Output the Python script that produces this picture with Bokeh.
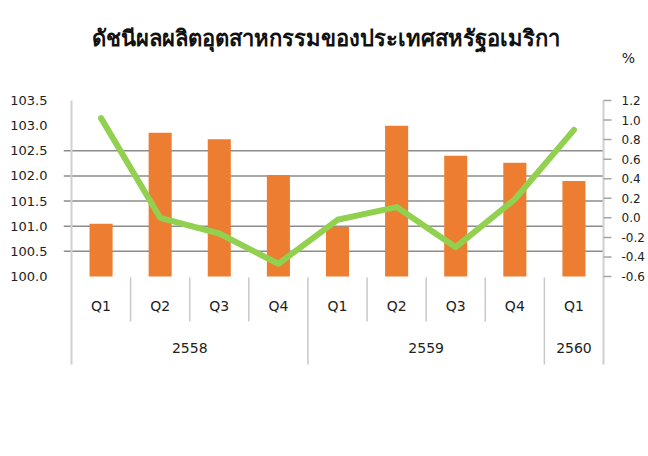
from bokeh.plotting import figure
from bokeh.models import Range1d, LinearAxis, FixedTicker, NumeralTickFormatter
from bokeh.core.properties import value
from bokeh.embed import file_html
from bokeh.resources import INLINE

# ---- data ----
title_text = "ดัชนีผลผลิตอุตสาหกรรมของประเทศสหรัฐอเมริกา"
years = ["2558", "2558", "2558", "2558", "2559", "2559", "2559", "2559", "2560"]
quarters = ["Q1", "Q2", "Q3", "Q4", "Q1", "Q2", "Q3", "Q4", "Q1"]
index_values = [101.05, 102.86, 102.73, 102.02, 100.99, 103.00, 102.40, 102.26, 101.90]
pct_change = [1.02, 0.00, -0.16, -0.47, -0.02, 0.11, -0.30, 0.19, 0.90]
left_ticks = [100.0, 100.5, 101.0, 101.5, 102.0, 102.5, 103.0, 103.5]
grid_ticks = [100.5, 101.0, 101.5, 102.0, 102.5]
right_ticks = [-0.6, -0.4, -0.2, 0.0, 0.2, 0.4, 0.6, 0.8, 1.0, 1.2]
right_tick_labels = ["-0.6", "-0.4", "-0.2", "0.0", "0.2", "0.4", "0.6", "0.8", "1.0", "1.2"]
unit_label = "%"

# ---- style / layout ----
BAR = "#ED7D31"
LINE = "#92D050"
TXT = "#222222"
FONT = "DejaVu Sans"
W, H = 648, 456
PLOT_L, PLOT_R = 71, 603        # category axis extent (px)
PLOT_T, PLOT_B = 100, 276       # value axes extent (px)
FRAME_L, FRAME_B = 63, 368
n = len(quarters)
L_MIN, L_MAX = left_ticks[0], left_ticks[-1]
R_MIN, R_MAX = right_ticks[0], right_ticks[-1]
kx = (PLOT_R - PLOT_L) / n
kl = (PLOT_B - PLOT_T) / (L_MAX - L_MIN)
kr = (PLOT_B - PLOT_T) / (R_MAX - R_MIN)

def dx(px):
    return (px - PLOT_L) / kx

def dl(py):
    return L_MIN + (PLOT_B - py) / kl

def dr(py):
    return R_MIN + (PLOT_B - py) / kr

xc = [i + 0.5 for i in range(n)]
year_names, year_centers, year_bounds = [], [], [0]
start = 0
for i in range(1, n + 1):
    if i == n or years[i] != years[start]:
        year_names.append(years[start])
        year_centers.append((start + i) / 2)
        year_bounds.append(i)
        start = i
quarter_bounds = [b for b in range(1, n) if b not in year_bounds]

p = figure(width=W, height=H, output_backend="svg", toolbar_location=None,
           x_range=Range1d(dx(FRAME_L), dx(W)), y_range=Range1d(dl(FRAME_B), dl(0)),
           x_axis_location=None, y_axis_location=None,
           min_border_left=FRAME_L, min_border_right=0, min_border_top=0,
           min_border_bottom=H - FRAME_B)
p.extra_y_ranges = {"pct": Range1d(dr(FRAME_B), dr(0))}
p.outline_line_color = None
p.background_fill_color = "white"
p.border_fill_color = "white"
p.xgrid.grid_line_color = None
p.ygrid.grid_line_color = None

# left value axis
lax = LinearAxis(ticker=FixedTicker(ticks=left_ticks),
                 formatter=NumeralTickFormatter(format="0.0"),
                 axis_line_color=None, major_tick_out=0, major_tick_in=0,
                 minor_tick_out=0, minor_tick_in=0,
                 major_label_standoff=16, major_label_text_font=FONT,
                 major_label_text_font_size="13px", major_label_text_color=TXT)
p.add_layout(lax, "left")

# horizontal gridlines
p.segment(x0=dx(FRAME_L), x1=n, y0=grid_ticks, y1=grid_ticks,
          line_color="#8c8c8c", line_width=1.5)

# left and right axis lines (continuing down as category borders)
p.segment(x0=[0, n], x1=[0, n], y0=L_MAX, y1=dl(364), line_color="#d0d0d0", line_width=2)

# right axis ticks
p.segment(x0=n, x1=n + 8 / kx, y0=right_ticks, y1=right_ticks, y_range_name="pct",
          line_color="#a6a6a6", line_width=1.5)

# bars and line
p.vbar(x=xc, top=index_values, bottom=L_MIN, width=0.39, fill_color=BAR, line_color=None)
p.line(xc, pct_change, y_range_name="pct", line_color=LINE, line_width=6,
       line_cap="round", line_join="round")

# category separators
p.segment(x0=quarter_bounds, x1=quarter_bounds, y0=dl(277), y1=dl(321),
          line_color="#c8c8c8", line_width=1.5)
inner_year_bounds = [b for b in year_bounds if 0 < b < n]
p.segment(x0=inner_year_bounds, x1=inner_year_bounds, y0=dl(277), y1=dl(364),
          line_color="#c8c8c8", line_width=1.5)

# category labels
p.text(x=xc, y=dl(305), text=quarters, text_align="center", text_baseline="middle",
       text_font=value(FONT), text_font_size=value("14px"), text_color=TXT)
p.text(x=year_centers, y=dl(347), text=year_names, text_align="center",
       text_baseline="middle", text_font=value(FONT), text_font_size=value("14px"),
       text_color=TXT)

# right axis labels
p.text(x=dx(621), y=right_ticks, text=right_tick_labels, y_range_name="pct",
       text_align="left", text_baseline="middle", text_font=value(FONT),
       text_font_size=value("12px"), text_color=TXT)

# unit label
p.text(x=[dx(628)], y=[dl(57)], text=[unit_label], text_align="center",
       text_baseline="middle", text_font=value(FONT), text_font_size=value("14px"),
       text_color=TXT)

# title
p.text(x=[dx(325)], y=[dl(36)], text=[title_text], text_align="center",
       text_baseline="middle", text_font=value("Noto Sans"), text_font_size=value("22px"),
       text_font_style="bold", text_color="#111111")

open("out.html", "w").write(file_html(p, INLINE))
